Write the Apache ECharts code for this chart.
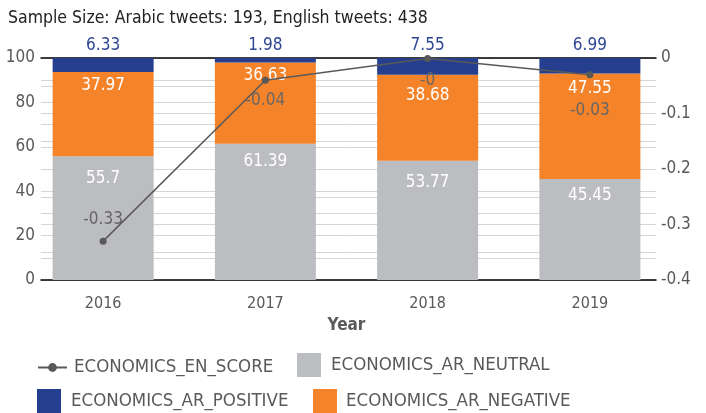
<!DOCTYPE html>
<html>
<head>
<meta charset="utf-8">
<script src="https://cdn.jsdelivr.net/npm/echarts@6/dist/echarts.min.js"></script>
<style>
  html, body { margin: 0; padding: 0; background: #fff; }
  #chart { width: 706px; height: 413px; }
</style>
</head>
<body>
<div id="chart"></div>
<script>
const years = ['2016', '2017', '2018', '2019'];
const arNeutral = [55.7, 61.39, 53.77, 45.45];
const arNegative = [37.97, 36.63, 38.68, 47.55];
const arPositive = [6.33, 1.98, 7.55, 6.99];
const enScore = [-0.33, -0.04, -0.001, -0.03];
const enScoreText = ['-0.33', '-0.04', '-0', '-0.03'];

const FONT = '"DejaVu Sans Condensed", "Roboto", sans-serif';
const GRAY_TEXT = '#595959';

const chart = echarts.init(document.getElementById('chart'), null, { renderer: 'canvas' });

// Per-point label offsets so the stacked labels do not collide
const lineLabelPos = [
  { position: 'top', distance: 10 },
  { position: 'bottom', distance: 8 },
  { position: 'bottom', distance: 10 },
  { position: 'bottom', distance: 24 }
];
const neutralLabelDist = [14, 9, 13, 8];
const negativeLabelDist = [5, 5, 12, 7];

const legendText = { fontFamily: FONT, fontSize: 18.5, color: GRAY_TEXT };

function legendAt(name, left, top, w, h, pad, icon) {
  const item = { name: name };
  if (icon) item.icon = icon;
  return {
    data: [item], left: left, top: top, padding: 0,
    itemWidth: w, itemHeight: h,
    textStyle: Object.assign({ padding: [0, 0, 0, pad] }, legendText)
  };
}

const option = {
  animation: false,
  textStyle: { fontFamily: FONT },
  title: {
    text: 'Sample Size: Arabic tweets: 193, English tweets: 438',
    left: 3, top: 4,
    textStyle: { fontFamily: FONT, fontSize: 17.5, fontWeight: 'normal', color: '#222' }
  },
  legend: [
    legendAt('ECONOMICS_EN_SCORE', 37, 358, 29, 11, 2),
    legendAt('ECONOMICS_AR_NEUTRAL', 297, 353, 24, 24, 5, 'rect'),
    legendAt('ECONOMICS_AR_POSITIVE', 37, 389, 24, 24, 5, 'rect'),
    legendAt('ECONOMICS_AR_NEGATIVE', 313, 389, 24, 24, 4, 'rect')
  ],
  grid: [
    { left: 22, right: 35, top: 58, bottom: 133 },
    { left: 41, right: 50, top: 58, bottom: 133 }
  ],
  xAxis: [
    {
      type: 'category', gridIndex: 0, data: years,
      axisLine: { show: false }, axisTick: { show: false },
      axisLabel: { color: GRAY_TEXT, fontSize: 16, fontFamily: FONT, margin: 16 },
      name: 'Year', nameLocation: 'middle', nameGap: 36,
      nameTextStyle: { color: GRAY_TEXT, fontSize: 17, fontWeight: 'bold', fontFamily: FONT }
    },
    {
      type: 'value', gridIndex: 1, min: 0, max: 1, position: 'bottom',
      axisLine: { show: true, onZero: false, lineStyle: { color: '#000', width: 1.5 } },
      axisTick: { show: false }, axisLabel: { show: false }, splitLine: { show: false }
    },
    {
      type: 'value', gridIndex: 1, min: 0, max: 1, position: 'top',
      axisLine: { show: true, onZero: false, lineStyle: { color: '#000', width: 1.5 } },
      axisTick: { show: false }, axisLabel: { show: false }, splitLine: { show: false }
    }
  ],
  yAxis: [
    { type: 'value', gridIndex: 0, min: 0, max: 100, show: false },
    { type: 'value', gridIndex: 0, min: -0.4, max: 0, show: false },
    {
      type: 'value', gridIndex: 1, min: 0, max: 100, interval: 10, position: 'left',
      axisLine: { show: false }, axisTick: { show: false },
      axisLabel: {
        color: GRAY_TEXT, fontSize: 17, fontFamily: FONT, margin: 6,
        formatter: v => (Math.round(v) % 20 === 0 ? String(Math.round(v)) : '')
      },
      splitLine: { lineStyle: { color: '#d6d6d6', width: 1 } }
    },
    {
      type: 'value', gridIndex: 1, min: -0.4, max: 0, interval: 0.05, position: 'right',
      axisLine: { show: false }, axisTick: { show: false },
      axisLabel: {
        color: GRAY_TEXT, fontSize: 17, fontFamily: FONT, margin: 5,
        formatter: v => {
          const t = Math.round(v * 100);
          if (t % 10 !== 0) return '';
          return t === 0 ? '0' : (t / 100).toFixed(1);
        }
      },
      splitLine: { lineStyle: { color: '#d6d6d6', width: 1 } }
    }
  ],
  series: [
    {
      name: 'ECONOMICS_AR_NEUTRAL', type: 'bar', stack: 'ar',
      xAxisIndex: 0, yAxisIndex: 0, barWidth: 101,
      data: arNeutral.map((v, i) => ({ value: v, label: { distance: neutralLabelDist[i] } })),
      itemStyle: { color: '#bcbdc0' },
      label: {
        show: true, position: 'insideTop',
        color: '#fff', fontSize: 17, fontFamily: FONT
      }
    },
    {
      name: 'ECONOMICS_AR_NEGATIVE', type: 'bar', stack: 'ar',
      xAxisIndex: 0, yAxisIndex: 0, barWidth: 101,
      data: arNegative.map((v, i) => ({ value: v, label: { distance: negativeLabelDist[i] } })),
      itemStyle: { color: '#f5832a' },
      label: {
        show: true, position: 'insideTop',
        color: '#fff', fontSize: 17, fontFamily: FONT
      }
    },
    {
      name: 'ECONOMICS_AR_POSITIVE', type: 'bar', stack: 'ar',
      xAxisIndex: 0, yAxisIndex: 0, barWidth: 101,
      data: arPositive,
      itemStyle: { color: '#253f8e' },
      label: {
        show: true, position: 'top', distance: 4,
        color: '#2e4593', fontSize: 17, fontFamily: FONT
      }
    },
    {
      name: 'ECONOMICS_EN_SCORE', type: 'line',
      xAxisIndex: 0, yAxisIndex: 1,
      data: enScore.map((v, i) => ({
        value: v,
        label: Object.assign({ formatter: enScoreText[i] }, lineLabelPos[i])
      })),
      symbol: 'circle', symbolSize: 7,
      lineStyle: { color: '#595959', width: 1.5 },
      itemStyle: { color: '#595959' },
      label: { show: true, color: '#666', fontSize: 17, fontFamily: FONT },
      z: 5
    }
  ]
};

chart.setOption(option);
</script>
</body>
</html>
